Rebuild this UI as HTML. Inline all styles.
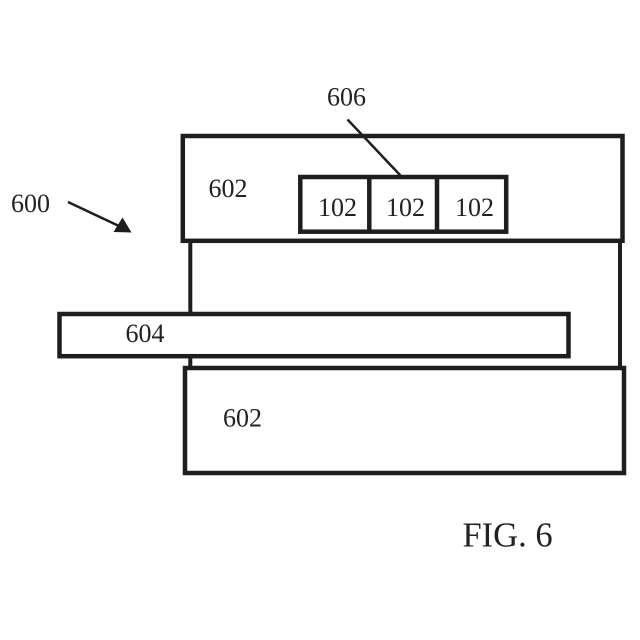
<!DOCTYPE html>
<html>
<head>
<meta charset="utf-8">
<style>
html,body{margin:0;padding:0;background:#fff;}
svg{display:block;}
text{font-family:"Liberation Serif",serif;fill:#222;}
</style>
</head>
<body>
<svg width="640" height="640" viewBox="0 0 640 640" xmlns="http://www.w3.org/2000/svg">
<rect width="640" height="640" fill="#fff"/>
<g fill="none" stroke="#1e1e1e" stroke-width="4.500">
<line x1="190.300" y1="241" x2="190.300" y2="368" stroke-width="4"/>
<line x1="620" y1="241" x2="620" y2="368" stroke-width="4"/>
<rect x="182.800" y="136" width="439.700" height="104.800"/>
<rect x="185" y="368" width="439" height="105"/>
<rect x="59.500" y="314" width="509" height="42.200" fill="#fff"/>
<rect x="300.300" y="177" width="205.900" height="54.700"/>
<line x1="369.300" y1="177" x2="369.300" y2="232"/>
<line x1="437" y1="177" x2="437" y2="232"/>
</g>
<line x1="347.500" y1="119.500" x2="400.500" y2="175.500" stroke="#1e1e1e" stroke-width="2.500"/>
<line x1="68" y1="202" x2="120" y2="226.500" stroke="#1e1e1e" stroke-width="2.500"/>
<polygon points="131.500,232.500 113.500,232 122.500,217.500" fill="#1e1e1e"/>
<g font-size="26">
<text x="327" y="105.500">606</text>
<text x="208.500" y="197.200">602</text>
<text x="11" y="212">600</text>
<text x="318" y="216">102</text>
<text x="386" y="216">102</text>
<text x="455" y="216">102</text>
<text x="125.500" y="342">604</text>
<text x="223" y="426.300">602</text>
</g>
<text x="462.500" y="546.500" font-size="34.500">FIG. 6</text>
</svg>
</body>
</html>
